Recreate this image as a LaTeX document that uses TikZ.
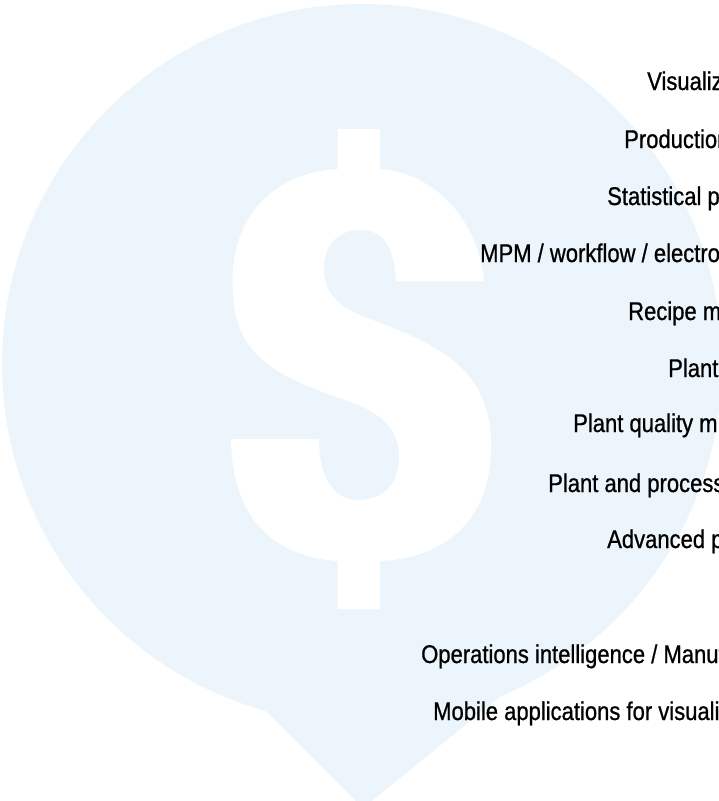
\documentclass[tikz,border=0pt]{standalone}
\usepackage{fontspec}
\setmainfont{Liberation Sans}[FakeStretch=0.86, FakeBold=0.8]
\definecolor{bubble}{RGB}{236,245,251}

\begin{document}
\begin{tikzpicture}[x=1pt, y=-1pt, item/.style = {anchor=base west, inner sep=0pt, font=\fontsize{25.6}{30}\selectfont}]
    \useasboundingbox (0,0) rectangle (719,801);
    \clip (0,0) rectangle (719,801);
    % speech bubble
    \fill[bubble] (362,364) circle[radius=360];
    \fill[bubble] (266,711) -- (363,808) -- (500,697) -- cycle;
    % dollar sign
    \fill[white] (337.5,129) -- (380,129) -- (380,169)
      .. controls (435,173) and (478,220) .. (484,281)
      -- (396,281)
      .. controls (394,245) and (383,230) .. (360,230)
      .. controls (338,230) and (324,245) .. (324,268)
      .. controls (324,295) and (340,308) .. (370,319)
      .. controls (440,345) and (491,370) .. (491,445)
      .. controls (492,515) and (450,558) .. (380,561)
      -- (380,609) -- (337.5,609) -- (337.5,561)
      .. controls (270,556) and (232,515) .. (231,439)
      -- (319,439)
      .. controls (319,480) and (335,500) .. (358,500)
      .. controls (385,500) and (399,482) .. (399,457)
      .. controls (399,425) and (375,410) .. (345,400)
      .. controls (262,372) and (232,348) .. (232.5,281)
      .. controls (233,205) and (285,172) .. (337.5,169)
      -- cycle;
    % list
    \node[item] (vis) at (647,90) {Visualiz};
    \node[item] (prod) at (624,148) {Production};
    \node[item] (spc) at (607,205) {Statistical p};
    \node[item] (mpm) at (480,262) {MPM / workflow / electro};
    \node[item] (recipe) at (628,320) {Recipe m};
    \node[item] (plant) at (668,377) {Plant};
    \node[item] (quality) at (573,432) {Plant quality m};
    \node[item] (process) at (548,492) {Plant and process};
    \node[item] (apc) at (607,548) {Advanced p};
    \node[item] (oi) at (421,663) {Operations intelligence / Manuf};
    \node[item] (mobile) at (433,720) {Mobile applications for visuali};
\end{tikzpicture}
\end{document}
